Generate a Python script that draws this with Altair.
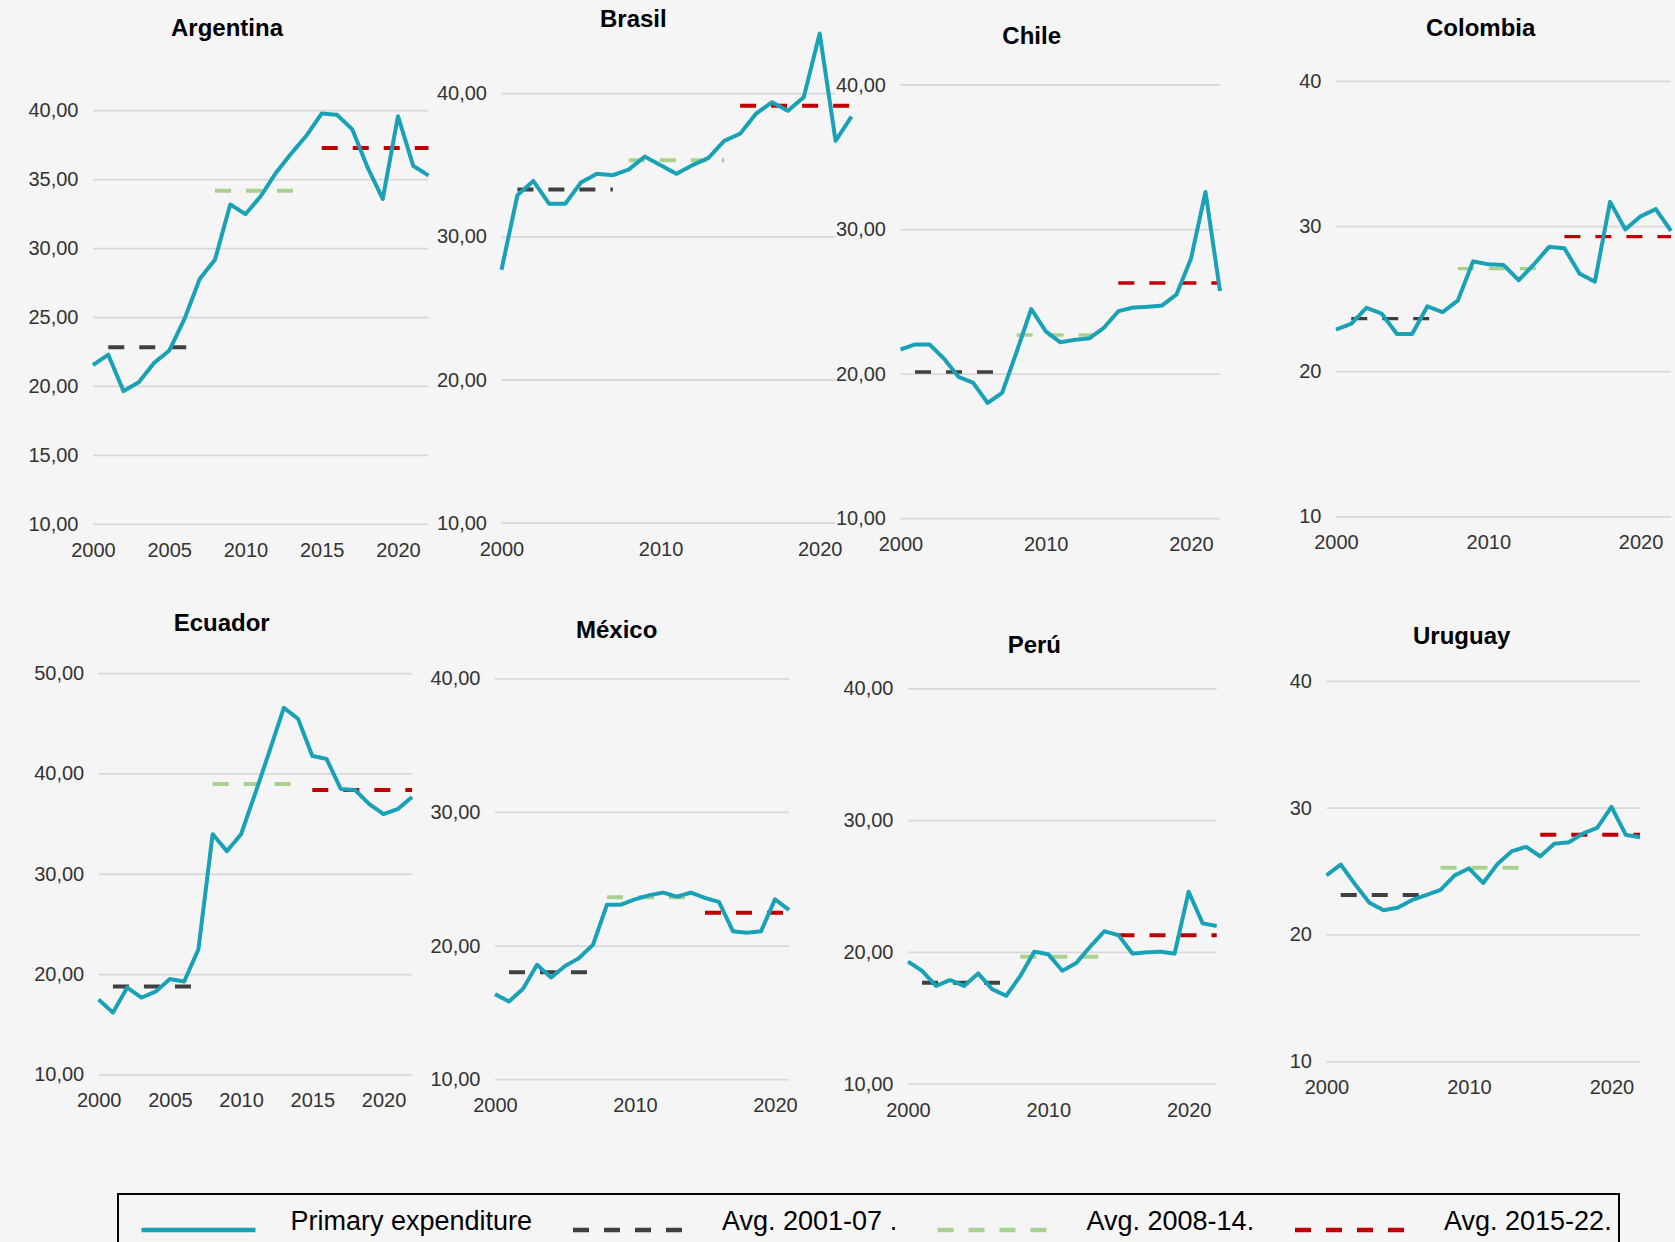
import altair as alt
import pandas as pd

# ---------------------------------------------------------------------------
# Primary expenditure (% of GDP), 2000-2022, and period averages
# ---------------------------------------------------------------------------
YEARS = list(range(2000, 2023))

ARGENTINA = [21.55, 22.3, 19.66, 20.3, 21.7, 22.6, 24.9, 27.8, 29.2, 33.2, 32.5, 33.8,
             35.5, 36.9, 38.2, 39.8, 39.7, 38.65, 35.9, 33.6, 39.6, 36.0, 35.3]
BRASIL = [27.7, 32.9, 33.9, 32.3, 32.3, 33.8, 34.4, 34.3, 34.7, 35.6, 35.0, 34.4,
          35.0, 35.5, 36.7, 37.2, 38.6, 39.4, 38.8, 39.75, 44.2, 36.7, 38.4]
CHILE = [21.7, 22.05, 22.05, 21.06, 19.8, 19.4, 18.0, 18.7, 21.55, 24.5, 22.96, 22.2,
         22.37, 22.47, 23.2, 24.35, 24.6, 24.65, 24.74, 25.5, 27.98, 32.6, 25.75]
COLOMBIA = [22.9, 23.3, 24.4, 24.0, 22.6, 22.6, 24.5, 24.1, 24.9, 27.6, 27.4, 27.35,
            26.3, 27.4, 28.6, 28.5, 26.75, 26.2, 31.7, 29.8, 30.7, 31.2, 29.7]
ECUADOR = [17.5, 16.2, 18.7, 17.7, 18.3, 19.55, 19.3, 22.5, 34.0, 32.3, 34.0, 38.1,
           42.3, 46.6, 45.5, 41.8, 41.5, 38.5, 38.4, 37.0, 36.0, 36.5, 37.7]
MEXICO = [16.4, 15.85, 16.8, 18.6, 17.65, 18.5, 19.1, 20.1, 23.1, 23.1, 23.5, 23.8,
          24.0, 23.7, 24.0, 23.6, 23.3, 21.1, 21.0, 21.1, 23.5, 22.7]
PERU = [19.3, 18.6, 17.45, 17.9, 17.45, 18.4, 17.2, 16.7, 18.2, 20.05, 19.85, 18.6,
        19.2, 20.45, 21.6, 21.3, 19.9, 20.0, 20.05, 19.9, 24.6, 22.2, 22.0]
URUGUAY = [24.7, 25.55, 24.0, 22.55, 21.95, 22.15, 22.75, 23.15, 23.55, 24.7, 25.25, 24.1,
           25.6, 26.6, 26.95, 26.2, 27.2, 27.3, 28.0, 28.45, 30.1, 27.9, 27.7]

# averages for 2001-07, 2008-14, 2015-22
AVG_ARGENTINA = [22.85, 34.2, 37.3]
AVG_BRASIL = [33.3, 35.35, 39.15]
AVG_CHILE = [20.15, 22.7, 26.3]
AVG_COLOMBIA = [23.65, 27.1, 29.3]
AVG_ECUADOR = [18.8, 39.0, 38.4]
AVG_MEXICO = [18.05, 23.65, 22.5]
AVG_PERU = [17.7, 19.67, 21.3]
AVG_URUGUAY = [23.15, 25.3, 27.9]

PERIOD_START = [2001, 2008, 2015]
PERIOD_END = [2007, 2014, 2022]

COUNTRIES = ["Argentina", "Brasil", "Chile", "Colombia",
             "Ecuador", "México", "Perú", "Uruguay"]
VALUES = [ARGENTINA, BRASIL, CHILE, COLOMBIA, ECUADOR, MEXICO, PERU, URUGUAY]
AVERAGES = [AVG_ARGENTINA, AVG_BRASIL, AVG_CHILE, AVG_COLOMBIA,
            AVG_ECUADOR, AVG_MEXICO, AVG_PERU, AVG_URUGUAY]

SERIES = ["Primary expenditure", "Avg. 2001-07 .", "Avg. 2008-14.", "Avg. 2015-22."]

# ---------------------------------------------------------------------------
# Styling and panel layout (pixel frame of each small multiple)
# ---------------------------------------------------------------------------
W, H = 1675, 1242
FONT = "Liberation Sans"
BG = "#F5F5F5"
GRID = "#D9D9D9"
SERIES_COLORS = ["#19A1B6", "#404040", "#A9D18E", "#C00000"]
SERIES_DASH = [[1, 0], [16, 15], [16, 15], [16, 15]]

TICKS_5 = [10, 15, 20, 25, 30, 35, 40]
TICKS_10 = [10, 20, 30, 40]
YEARS_5 = [2000, 2005, 2010, 2015, 2020]
YEARS_10 = [2000, 2010, 2020]

LAYOUT = {
    "Argentina": dict(box=(93, 428.5, 110.7, 524.3), ymax=40, yticks=TICKS_5,
                      xticks=YEARS_5, decimals=True, title=(227, 28.6), dash_w=4),
    "Brasil": dict(box=(501.5, 851.5, 93.6, 523.2), ymax=40, yticks=TICKS_10,
                   xticks=YEARS_10, decimals=True, title=(633.3, 20.4), dash_w=4,
                   grid_end=2021),
    "Chile": dict(box=(900.5, 1220, 85.0, 518.6), ymax=40, yticks=TICKS_10,
                  xticks=YEARS_10, decimals=True, title=(1031.7, 36.8), dash_w=3.5),
    "Colombia": dict(box=(1336, 1671, 81.4, 516.8), ymax=40, yticks=TICKS_10,
                     xticks=YEARS_10, decimals=False, title=(1480.7, 28.6), dash_w=3.2),
    "Ecuador": dict(box=(98.7, 412, 673.7, 1074.8), ymax=50, yticks=[10, 20, 30, 40, 50],
                    xticks=YEARS_5, decimals=True, title=(221.7, 624.4), dash_w=4),
    "México": dict(box=(495, 789, 678.8, 1079.7), ymax=40, yticks=TICKS_10,
                   xticks=YEARS_10, decimals=True, title=(616.7, 630.6), dash_w=4),
    "Perú": dict(box=(908, 1216.7, 688.8, 1084.1), ymax=40, yticks=TICKS_10,
                 xticks=YEARS_10, decimals=True, title=(1034.3, 645.8), dash_w=4),
    "Uruguay": dict(box=(1326.5, 1640, 681.3, 1061.8), ymax=40, yticks=TICKS_10,
                    xticks=YEARS_10, decimals=False, title=(1461.7, 637.2), dash_w=4),
}

# legend: one boxed row of stroke symbols under the grid of panels
LEGEND = alt.Legend(
    title=None, orient="none", legendX=118, legendY=1194,
    direction="horizontal", columns=4,
    symbolType="M0,0H4.26", symbolSize=2862, symbolStrokeWidth=4.5, symbolOffset=-12.5,
    labelFont=FONT, labelFontSize=27, labelColor="black", labelLimit=400,
    labelOffset=120, labelBaseline="alphabetic",
    columnPadding=23.5, padding=7, strokeColor="black",
)
COLOR = alt.Color("series:N", scale=alt.Scale(domain=SERIES, range=SERIES_COLORS),
                  legend=LEGEND)
DASH = alt.StrokeDash("series:N", scale=alt.Scale(domain=SERIES, range=SERIES_DASH),
                      legend=LEGEND)


def panel(name, values, avgs, g):
    years = YEARS[:len(values)]
    first, last = years[0], years[-1]
    left, right, top, bottom = g["box"]

    # scales spanning the whole canvas, placed so the panel lands in its frame
    px_year = (right - left) / (last - first)
    x_lo = first - left / px_year
    x_hi = x_lo + W / px_year
    px_unit = (bottom - top) / (g["ymax"] - 10)
    y_hi = g["ymax"] + top / px_unit
    y_lo = 10 - (H - bottom) / px_unit

    x_scale = alt.Scale(domain=[x_lo, x_hi], nice=False, zero=False)
    y_scale = alt.Scale(domain=[y_lo, y_hi], nice=False, zero=False)
    x_axis = alt.Axis(orient="bottom", offset=bottom - H, values=g["xticks"],
                      format="d", title=None)
    label_expr = ("replace(format(datum.value, '.2f'), '.', ',')" if g["decimals"]
                  else "format(datum.value, 'd')")
    y_axis = alt.Axis(orient="left", offset=-left, values=g["yticks"],
                      labelExpr=label_expr, title=None)

    def xe(field):
        return alt.X(field, type="quantitative", scale=x_scale, axis=x_axis, title=None)

    def ye(field):
        return alt.Y(field, type="quantitative", scale=y_scale, axis=y_axis, title=None)

    grid_df = pd.DataFrame({"tick": g["yticks"], "start": first,
                            "end": g.get("grid_end", last)})
    grid = alt.Chart(grid_df).mark_rule(color=GRID, strokeWidth=1.8).encode(
        x=xe("start"), x2=alt.X2("end"), y=ye("tick"))

    avg_df = pd.DataFrame({
        "series": SERIES[1:],
        "start": PERIOD_START,
        "end": [min(e, last) for e in PERIOD_END],
        "value": avgs,
    })
    avg = alt.Chart(avg_df).mark_rule(strokeWidth=g["dash_w"]).encode(
        x=xe("start"), x2=alt.X2("end"), y=ye("value"), color=COLOR, strokeDash=DASH)

    line_df = pd.DataFrame({"year": years, "value": values, "series": SERIES[0]})
    line = alt.Chart(line_df).mark_line(strokeWidth=4, strokeJoin="round").encode(
        x=xe("year"), y=ye("value"), color=COLOR, strokeDash=DASH)

    tx, ty = g["title"]
    title = alt.Chart(pd.DataFrame({"name": [name]})).mark_text(
        font=FONT, fontSize=24, fontWeight="bold", color="black",
        align="center", baseline="middle",
    ).encode(text="name:N", x=alt.value(tx), y=alt.value(ty))

    return alt.layer(grid, avg, line, title)


panels = [panel(n, v, a, LAYOUT[n]) for n, v, a in zip(COUNTRIES, VALUES, AVERAGES)]

chart = (
    alt.layer(*panels)
    .resolve_scale(x="independent", y="independent")
    .properties(width=W, height=H, autosize=alt.AutoSizeParams(type="none"),
                padding=0, background=BG)
    .configure_view(strokeWidth=0)
    .configure_axis(labelFont=FONT, labelFontSize=20, labelColor="#333333",
                    grid=False, domain=False, ticks=False, tickSize=0,
                    labelFlush=False, labelOverlap=False)
    .configure_axisX(labelPadding=16)
    .configure_axisY(labelPadding=15)
    .configure_legend(strokeWidth=2)
)

chart.save("out.html", embed_options={"renderer": "svg", "actions": False})
